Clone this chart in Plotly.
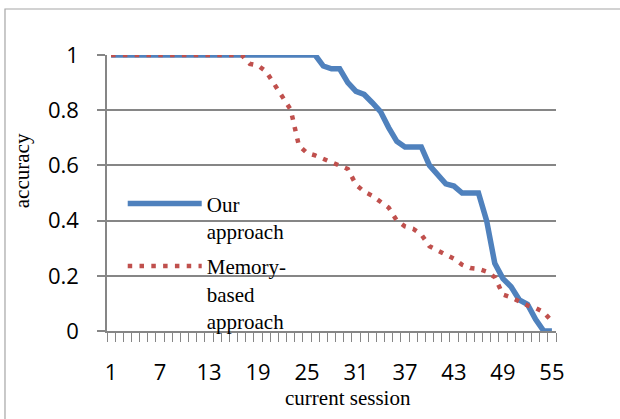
import plotly.graph_objects as go

sessions = [1, 2, 3, 4, 5, 6, 7, 8, 9, 10, 11, 12, 13, 14, 15, 16, 17, 18, 19, 20,
            21, 22, 23, 24, 25, 26, 27, 28, 29, 30, 31, 32, 33, 34, 35, 36, 37, 38, 39, 40,
            41, 42, 43, 44, 45, 46, 47, 48, 49, 50, 51, 52, 53, 54, 55]

our_approach = [1, 1, 1, 1, 1, 1, 1, 1, 1, 1,
                1, 1, 1, 1, 1, 1, 1, 1, 1, 1,
                1, 1, 1, 1, 1, 1, 0.96, 0.95, 0.95, 0.90,
                0.868, 0.857, 0.827, 0.795, 0.737, 0.687, 0.667, 0.667, 0.667, 0.60,
                0.568, 0.533, 0.525, 0.50, 0.50, 0.50, 0.40, 0.245, 0.19, 0.16,
                0.113, 0.097, 0.042, 0, 0]

memory_based = [1, 1, 1, 1, 1, 1, 1, 1, 1, 1,
                1, 1, 1, 1, 1, 1, 1, 0.968, 0.962, 0.94,
                0.895, 0.845, 0.802, 0.672, 0.645, 0.636, 0.624, 0.61, 0.598, 0.587,
                0.53, 0.505, 0.49, 0.466, 0.447, 0.40, 0.379, 0.37, 0.35, 0.307,
                0.293, 0.28, 0.262, 0.24, 0.228, 0.225, 0.215, 0.195, 0.132, 0.122,
                0.107, 0.093, 0.083, 0.068, 0.035]

x_tick_vals = [1, 7, 13, 19, 25, 31, 37, 43, 49, 55]
x_tick_text = ["1", "7", "13", "19", "25", "31", "37", "43", "49", "55"]
y_tick_vals = [0, 0.2, 0.4, 0.6, 0.8, 1]
y_tick_text = ["0", "0.2", "0.4", "0.6", "0.8", "1"]

BLUE = "#4F81BD"
RED = "#C0504D"
GRAY = "#868686"
SANS = "Open Sans"
SERIF = "Liberation Serif"

fig = go.Figure()
fig.add_trace(go.Scatter(
    x=sessions, y=our_approach, mode="lines", name="Our<br>approach",
    legendgroup="ours",
    line=dict(color=BLUE, width=5.5),
))
fig.add_trace(go.Scatter(
    x=sessions, y=memory_based, mode="lines", name="Memory-<br>based<br>approach",
    legendgroup="memory",
    line=dict(color=RED, width=4.5, dash="4.5px,7.3px"),
))

fig.update_layout(
    width=620, height=419,
    margin=dict(l=107, r=64, t=55, b=88),
    paper_bgcolor="white", plot_bgcolor="white",
    showlegend=True,
    legend=dict(
        x=0.035, y=0.535, xanchor="left", yanchor="top",
        bgcolor="rgba(0,0,0,0)", borderwidth=0,
        font=dict(family=SERIF, size=21, color="#000"),
        valign="top", itemwidth=74, tracegroupgap=5,
    ),
    xaxis=dict(
        range=[0.5, 55.5], tickmode="array", tickvals=x_tick_vals, ticktext=x_tick_text,
        ticks="", showgrid=False, zeroline=False,
        showline=True, linecolor=GRAY, linewidth=1.5,
        tickfont=dict(family=SANS, size=22, color="#000"),
        ticklabelstandoff=21,
        minor=dict(tickmode="linear", tick0=0.5, dtick=1, ticks="outside",
                   ticklen=9, tickcolor=GRAY, tickwidth=1.2, showgrid=False),
    ),
    yaxis=dict(
        range=[0, 1], tickmode="array", tickvals=y_tick_vals, ticktext=y_tick_text,
        ticks="outside", ticklen=8, tickcolor=GRAY, tickwidth=1.5,
        showgrid=True, gridcolor=GRAY, gridwidth=1.5, zeroline=False,
        showline=True, linecolor=GRAY, linewidth=1.5,
        tickfont=dict(family=SANS, size=22, color="#000"),
        ticklabelstandoff=14,
    ),
    shapes=[dict(type="rect", xref="paper", yref="paper",
                 x0=-0.2272, x1=1.2, y0=-0.4, y1=1.1667,
                 line=dict(color="#A6A6A6", width=1.2), fillcolor="rgba(0,0,0,0)",
                 layer="below")],
    annotations=[
        dict(text="current session", xref="paper", yref="paper", x=0.5367, y=-0.243,
             xanchor="center", yanchor="middle", showarrow=False,
             font=dict(family=SERIF, size=21, color="#000")),
        dict(text="accuracy", xref="paper", yref="paper", x=-0.19, y=0.5815,
             xanchor="center", yanchor="middle", showarrow=False, textangle=-90,
             font=dict(family=SERIF, size=21, color="#000")),
    ],
)

fig.write_html(
    "out.html",
    config={"displayModeBar": False},
    post_script="document.body.style.margin='0';document.body.style.overflow='hidden';",
)
